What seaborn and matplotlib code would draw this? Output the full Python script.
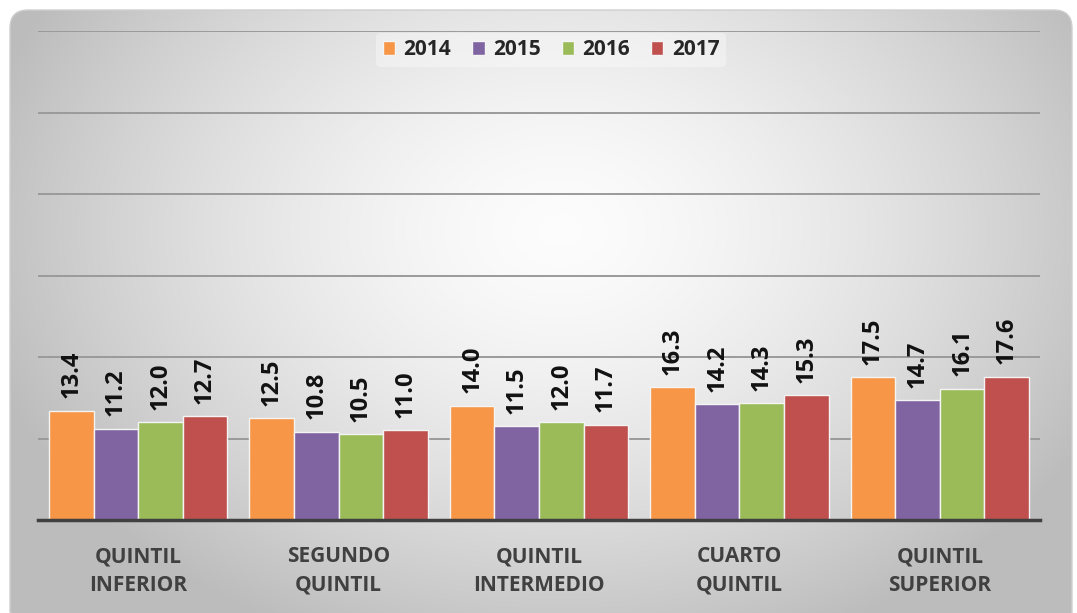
import numpy as np
import pandas as pd
import matplotlib
matplotlib.use("Agg")
import matplotlib.pyplot as plt
import seaborn as sns
from matplotlib.patches import FancyBboxPatch

categories = ["QUINTIL\nINFERIOR", "SEGUNDO\nQUINTIL", "QUINTIL\nINTERMEDIO", "CUARTO\nQUINTIL", "QUINTIL\nSUPERIOR"]
years = ["2014", "2015", "2016", "2017"]
v2014 = [13.4, 12.5, 14.0, 16.3, 17.5]
v2015 = [11.2, 10.8, 11.5, 14.2, 14.7]
v2016 = [12.0, 10.5, 12.0, 14.3, 16.1]
v2017 = [12.7, 11.0, 11.7, 15.3, 17.6]
colors = ["#F79646", "#8064A2", "#9BBB59", "#C0504D"]

rows = []
for y, vals in zip(years, [v2014, v2015, v2016, v2017]):
    for c, v in zip(categories, vals):
        rows.append({"cat": c, "year": y, "value": v})
df = pd.DataFrame(rows)

sns.set_theme(style="white")
plt.rcParams["font.family"] = ["Open Sans", "DejaVu Sans"]

W, H = 1077, 613
fig = plt.figure(figsize=(W / 100, H / 100), dpi=100)
fig.patch.set_facecolor("white")

# background card with radial gradient
bg = fig.add_axes([0, 0, 1, 1], zorder=-10)
bg.set_xlim(0, W)
bg.set_ylim(H, 0)
bg.axis("off")
yy, xx = np.mgrid[0:H, 0:W]
cx, cy = 560, 230
r = np.sqrt(((xx - cx) / 580) ** 2 + ((yy - cy) / 430) ** 2)
g = np.clip(0.99 - 0.24 * r ** 1.5, 0.74, 1.0)
img = np.dstack([g, g, g])
card = FancyBboxPatch((10, 10), 1062, 620, boxstyle="round,pad=0,rounding_size=18",
                      facecolor="none", edgecolor="#cfcfcf", lw=1.0)
bg.add_patch(card)
im = bg.imshow(img, extent=(0, W, H, 0), interpolation="bilinear", aspect="auto")
im.set_clip_path(card)

ax = fig.add_axes([38 / W, (H - 520) / H, (1040 - 38) / W, (520 - 31) / H])
ax.set_facecolor("none")
sns.barplot(data=df, x="cat", y="value", hue="year", palette=colors, ax=ax,
            width=0.89, gap=0, edgecolor="#f4f4f4", linewidth=1.0, saturation=1, errorbar=None,
            zorder=3)

ax.set_ylim(0, 60)
ax.set_xlim(-0.5, 4.5)
ax.set_yticks([10, 20, 30, 40, 50, 60])
ax.yaxis.grid(True, color="#9a9a9a", lw=1.4, zorder=0)
ax.set_axisbelow(True)
ax.tick_params(axis="y", left=False, labelleft=False)
for s in ["left", "right", "top"]:
    ax.spines[s].set_visible(False)
ax.spines["bottom"].set_color("#404040")
ax.spines["bottom"].set_linewidth(2.5)
ax.spines["bottom"].set_zorder(5)
ax.set_xlabel("")
ax.set_ylabel("")

ax.set_xticks(range(len(categories)))
ax.set_xticklabels(categories, fontsize=15, fontweight="bold", color="#404040", linespacing=1.45)
ax.set_xticks(np.arange(-0.5, 5.0, 1.0), minor=True)
ax.tick_params(axis="x", which="major", length=0, pad=19)
ax.tick_params(axis="x", which="minor", length=7, width=2.2, color="#404040", direction="out")

for cont in ax.containers:
    for bar in cont:
        h = bar.get_height()
        ax.annotate(f"{h:.1f}", (bar.get_x() + bar.get_width() / 2, h),
                    xytext=(0, 9), textcoords="offset points", rotation=90,
                    ha="center", va="bottom", fontsize=17, fontweight="bold", color="#111111")

leg = ax.legend(loc="upper center", bbox_to_anchor=(0.512, 1.017), ncol=4, frameon=True,
                prop={"weight": "bold", "size": 15}, handlelength=0.6, handleheight=0.6,
                handletextpad=0.4, columnspacing=1.0, borderpad=0.3)
leg.get_frame().set_facecolor("white")
leg.get_frame().set_alpha(0.35)
leg.get_frame().set_edgecolor("none")

fig.savefig("out.png", dpi=100, facecolor="white")
